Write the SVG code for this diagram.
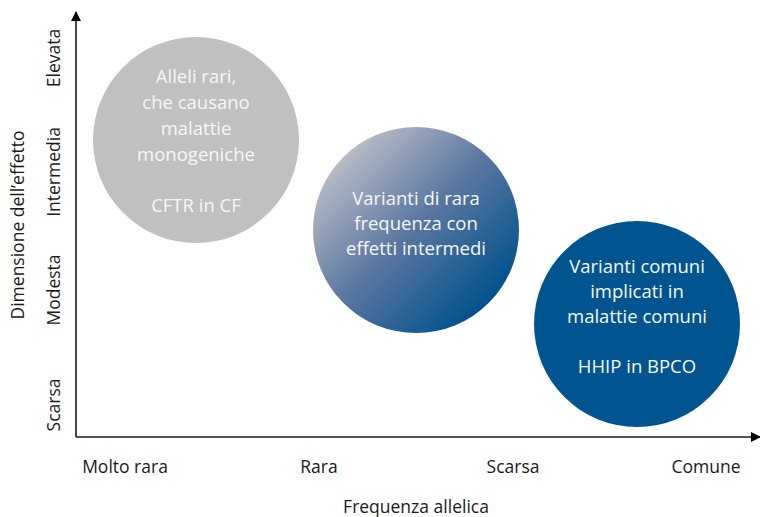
<svg xmlns="http://www.w3.org/2000/svg" width="760" height="517" viewBox="0 0 760 517">
<style>
text{font-family:"Open Sans","Noto Sans",sans-serif;}
.in{fill:#f7f7f7;font-size:18.5px;text-anchor:middle;}
.ax{fill:#1a1a1a;font-size:17.5px;text-anchor:middle;}
</style>
<defs>
<linearGradient id="g2" x1="0.12" y1="0.12" x2="0.85" y2="0.85">
<stop offset="0" stop-color="#bec1c8"/>
<stop offset="0.5" stop-color="#5b77a0"/>
<stop offset="1" stop-color="#00528e"/>
</linearGradient>
<marker id="arr" viewBox="0 0 10 10" refX="9" refY="5" markerWidth="10" markerHeight="10" markerUnits="userSpaceOnUse" orient="auto"><path d="M0,0L10,5L0,10z" fill="#000"/></marker>
</defs>
<rect width="760" height="517" fill="#fff"/>
<g id="connectors" stroke="#1a1a1a" stroke-width="1.6" fill="none">
<path d="M76,437V12" marker-end="url(#arr)"/>
<path d="M76,437H760" marker-end="url(#arr)"/>
</g>
<g id="node1">
<circle cx="196" cy="140" r="103" fill="#c0c0c0"/>
<text class="in" x="196" y="83">Alleli rari,</text>
<text class="in" x="196" y="109">che causano</text>
<text class="in" x="196" y="135">malattie</text>
<text class="in" x="196" y="161">monogeniche</text>
<text class="in" x="196" y="212">CFTR in CF</text>
</g>
<g id="node2">
<circle cx="416" cy="230" r="103" fill="url(#g2)"/>
<text class="in" x="416" y="205">Varianti di rara</text>
<text class="in" x="416" y="230">frequenza con</text>
<text class="in" x="416" y="255">effetti intermedi</text>
</g>
<g id="node3">
<circle cx="637" cy="324" r="103" fill="#00548f"/>
<text class="in" x="637" y="273">Varianti comuni</text>
<text class="in" x="637" y="298">implicati in</text>
<text class="in" x="637" y="323">malattie comuni</text>
<text class="in" x="637" y="373">HHIP in BPCO</text>
</g>
<g id="xlabels">
<text class="ax" x="125" y="473">Molto rara</text>
<text class="ax" x="319" y="473">Rara</text>
<text class="ax" x="513" y="473">Scarsa</text>
<text class="ax" x="706" y="473">Comune</text>
<text class="ax" x="416" y="513">Frequenza allelica</text>
</g>
<g id="ylabels">
<text class="ax" transform="translate(60,58) rotate(-90)">Elevata</text>
<text class="ax" transform="translate(60,172) rotate(-90)">Intermedia</text>
<text class="ax" transform="translate(60,290) rotate(-90)">Modesta</text>
<text class="ax" transform="translate(60,405) rotate(-90)">Scarsa</text>
<text class="ax" transform="translate(24,225) rotate(-90)">Dimensione dell’effetto</text>
</g>
</svg>
